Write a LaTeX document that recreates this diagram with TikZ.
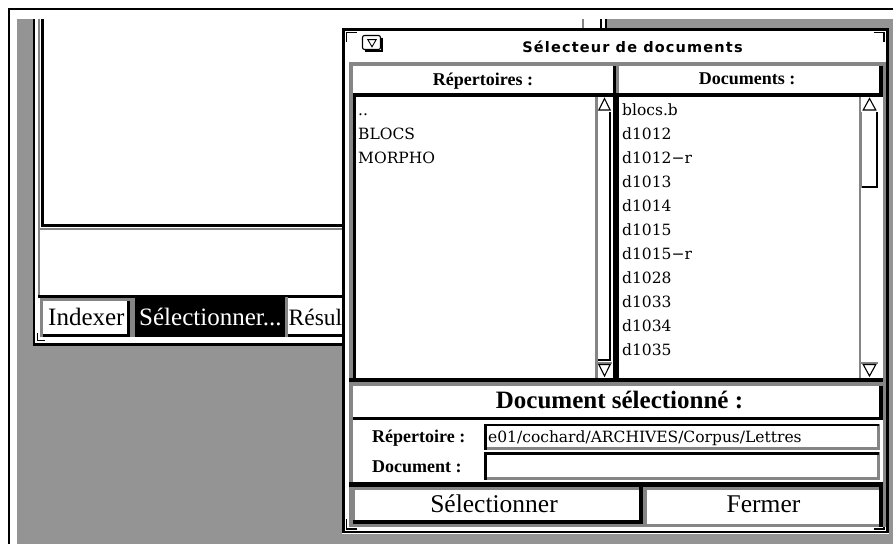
\documentclass[tikz,border=0pt]{standalone}
\usepackage{fontspec}
\setmainfont{Liberation Serif}
\newfontfamily\listfont{DejaVu Serif}
\newfontfamily\titlefont{DejaVu Sans}[LetterSpace=8]

\newcommand\sizepx[1]{\fontsize{#1}{#1}\selectfont}

\tikzset{
  desk/.style={fill=black!42},
  dots/.style={fill=black!48},
  ink/.style={fill=black},
  txt/.style={inner sep=0pt, anchor=base west},
  ctxt/.style={inner sep=0pt, anchor=base},
  rowtext/.style={txt, font=\listfont\sizepx{15.5}},
  tri/.style={draw, line width=1.1pt, line join=miter, fill=white},
  corner/.style={draw, line width=1.2pt},
}

\begin{document}
\begin{tikzpicture}[x=1pt,y=-1pt]
\useasboundingbox (0,0) rectangle (893,544);
\fill[white] (0,0) rectangle (893,544);

% screen border
\fill[ink] (7.5,7.5) rectangle (893,10.3);
\fill[ink] (7.5,7.5) rectangle (10.3,544);

% desktop
\fill[desk] (17,18.5) rectangle (893,544);

% ---------- main window (behind)
\fill[white] (33,18.5) rectangle (607,345.5);
\fill[desk] (17,18.5) rectangle (32.5,345.5);
\fill[ink] (32.5,18.5) rectangle (34.8,345.5);
\fill[ink] (32.5,343) rectangle (343,345.5);
\fill[dots] (582,18.5) rectangle (584,40);
\fill[ink] (599.5,18.5) rectangle (602,40);
\fill[ink] (604.5,18.5) rectangle (607,40);
% text pane
\fill[dots] (38,18.5) rectangle (40,298);
\fill[ink] (41,18.5) rectangle (43.5,227);
\fill[ink] (41,223.5) rectangle (343,227);
\fill[dots] (38,228) rectangle (343,230);
% tab buttons
\fill[ink] (38,294.5) rectangle (343,298);
\fill[dots] (40,298) rectangle (135,337);
\fill[white] (43,301) rectangle (127,333.5);
\fill[ink] (127,301) rectangle (130,337);
\fill[ink] (43,333.5) rectangle (130,337);
\fill[ink] (135,297) rectangle (285,337);
\fill[dots] (285,297) rectangle (288,337);
\fill[white] (288,298) rectangle (343,334);
\fill[ink] (288,334) rectangle (343,337);
\draw[corner, line width=1pt] (37,333) -- (37,340.5) -- (45,340.5);
\node[txt, font=\sizepx{25}] (tabA) at (48,325) {Indexer};
\node[txt, font=\sizepx{25}, text=white] (tabB) at (139,325) {Sélectionner...};
\node[txt, font=\sizepx{23.5}] (tabC) at (288.5,325) {Résul};

% ---------- document selector dialog
\fill[white] (342,28) rectangle (888.5,533.5);
\draw[line width=2.4pt] (343.3,29.3) rectangle (887.3,532.2);
\draw[corner] (346.5,42) -- (346.5,32.5) -- (357,32.5);
\draw[corner] (873.5,32.5) -- (884,32.5) -- (884,42);
\draw[corner] (346.5,519) -- (346.5,529) -- (357,529);
\draw[corner] (873.5,529) -- (884,529) -- (884,519);

% title bar
\draw[line width=1.1pt, rounded corners=2pt] (362.5,35.5) rectangle (380.5,49.5);
\draw[line width=1.6pt] (382,37.5) -- (382,51) -- (364.5,51);
\draw[line width=0.9pt, line join=miter] (367.8,39.6) -- (376.2,39.6) -- (372,46.8) -- cycle;
\node[ctxt, font=\titlefont\bfseries\sizepx{14.5}] (title) at (632.5,52) {Sélecteur de documents};

% inner dithered margins
\fill[dots] (349,62) rectangle (885.5,66);
\fill[dots] (349,62) rectangle (352.5,527);
\fill[dots] (882.5,62) rectangle (885.5,527);
\fill[dots] (349,524) rectangle (885.5,527);

% column headers
\fill[ink] (613,66) rectangle (616,97);
\fill[dots] (616,66) rectangle (618.5,93);
\fill[ink] (879,66) rectangle (882.5,97);
\fill[ink] (352.5,93) rectangle (882.5,97);
\node[ctxt, font=\bfseries\sizepx{18}] (hdrA) at (483,85) {Répertoires :};
\node[ctxt, font=\bfseries\sizepx{18}] (hdrB) at (747,84.5) {Documents :};

% directory list with scrollbar
\fill[ink] (352.5,97) rectangle (356,378);
\fill[dots] (595,97) rectangle (597.5,378);
\fill[ink] (608.5,112) rectangle (611,361);
\fill[ink] (597.5,358.5) rectangle (611,361);
\fill[ink] (613,97) rectangle (619,378);
\path[tri] (604.5,98.5) -- (598.8,110) -- (610.2,110) -- cycle;
\fill[dots] (597.5,362) rectangle (612,363.5);
\path[tri] (598.8,364.5) -- (610.2,364.5) -- (604.5,376) -- cycle;

% document list with scrollbar
\fill[dots] (858.5,97) rectangle (861,378);
\fill[ink] (875.5,112) rectangle (878,188);
\fill[ink] (861,185.5) rectangle (878,188);
\fill[dots] (861,112) rectangle (862.2,188);
\path[tri] (869.5,98.5) -- (863.2,110) -- (875.8,110) -- cycle;
\fill[dots] (861,362) rectangle (878,363.5);
\path[tri] (863.2,364.5) -- (875.8,364.5) -- (869.5,376) -- cycle;

\node[rowtext] (dirA) at (358,115) {..};
\node[rowtext] (dirB) at (358,139) {BLOCS};
\node[rowtext] (dirC) at (358,163) {MORPHO};

\node[rowtext] (docA) at (622,115) {blocs.b};
\node[rowtext] (docB) at (622,139) {d1012};
\node[rowtext] (docC) at (622,163) {d1012−r};
\node[rowtext] (docD) at (622,187) {d1013};
\node[rowtext] (docE) at (622,211) {d1014};
\node[rowtext] (docF) at (622,235) {d1015};
\node[rowtext] (docG) at (622,259) {d1015−r};
\node[rowtext] (docH) at (622,283) {d1028};
\node[rowtext] (docI) at (622,307) {d1033};
\node[rowtext] (docJ) at (622,331) {d1034};
\node[rowtext] (docK) at (622,355) {d1035};

% selected document section
\fill[ink] (349,378) rectangle (882.5,382);
\fill[dots] (352.5,382) rectangle (882.5,386);
\fill[ink] (879,386) rectangle (882.5,420);
\fill[ink] (352.5,417) rectangle (882.5,420);
\node[ctxt, font=\bfseries\sizepx{25}] (selhdr) at (619.5,408) {Document sélectionné :};

\node[txt, font=\bfseries\sizepx{18}] (lblDir) at (372,442) {Répertoire :};
\node[txt, font=\bfseries\sizepx{18}] (lblDoc) at (372,472) {Document :};

% entry fields
\fill[dots] (484,447) rectangle (879.5,449.5);
\fill[dots] (877,424) rectangle (879.5,449.5);
\fill[ink] (484,424) rectangle (879,426);
\fill[ink] (484,424) rectangle (487,449.5);
\fill[dots] (484,477) rectangle (879.5,479.5);
\fill[dots] (877,452) rectangle (879.5,479.5);
\fill[ink] (484,452) rectangle (879,455);
\fill[ink] (484,452) rectangle (487,479.5);
\node[rowtext] (fieldDir) at (488,442) {e01/cochard/ARCHIVES/Corpus/Lettres};

% command buttons
\fill[ink] (349,482) rectangle (882.5,487);
\fill[dots] (352.5,487) rectangle (642.5,490);
\fill[dots] (352.5,487) rectangle (355,523);
\fill[ink] (639,487) rectangle (642.5,523.5);
\fill[ink] (352.5,520) rectangle (642.5,523.5);
\fill[dots] (642.5,487) rectangle (647,527);
\fill[dots] (647,487) rectangle (879,490);
\fill[ink] (879,487) rectangle (882.5,527);
\node[ctxt, font=\sizepx{25.5}] (btnSel) at (494,512) {Sélectionner};
\node[ctxt, font=\sizepx{25.5}] (btnClose) at (763.5,512) {Fermer};
\end{tikzpicture}
\end{document}
